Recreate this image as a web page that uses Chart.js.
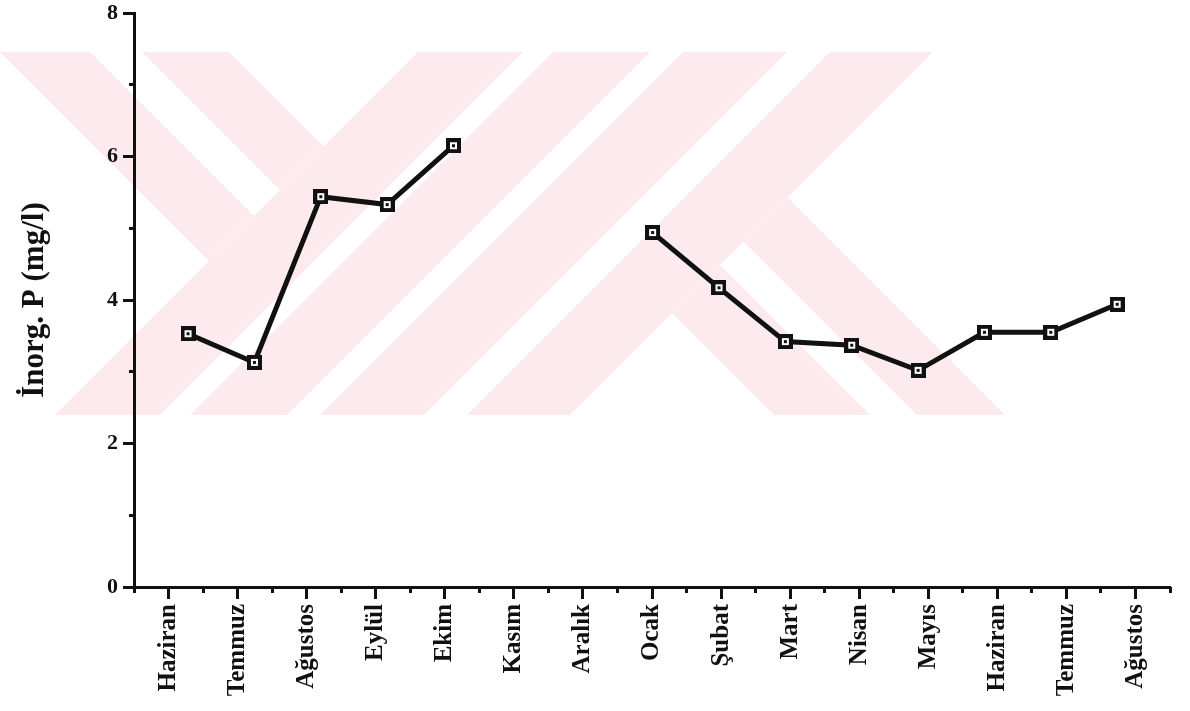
<!DOCTYPE html>
<html lang="tr">
<head>
<meta charset="UTF-8">
<title>İnorg. P</title>
<script src="https://cdn.jsdelivr.net/npm/chart.js"></script>
<style>
  body { margin: 0; background: #fff; }
  .kutu { width: 1190px; height: 711px; }
</style>
</head>
<body>
<div class="kutu"><canvas id="grafik"></canvas></div>
<script>
// veriler
const aylar = ['Haziran', 'Temmuz', 'Ağustos', 'Eylül', 'Ekim', 'Kasım', 'Aralık', 'Ocak', 'Şubat', 'Mart', 'Nisan', 'Mayıs', 'Haziran', 'Temmuz', 'Ağustos'];
const inorgP = [3.53, 3.13, 5.44, 5.33, 6.15, null, null, 4.94, 4.17, 3.42, 3.37, 3.02, 3.55, 3.55, 3.94];
const yEtiketleri = [0, 2, 4, 6, 8];

const siyah = '#111';
const pembe = '#fdeaee';

// kare isaret (icinde beyaz kare)
const isaret = document.createElement('canvas');
isaret.width = 15; isaret.height = 15;
const ic = isaret.getContext('2d');
ic.fillStyle = siyah; ic.fillRect(0, 0, 15, 15);
ic.fillStyle = '#fff'; ic.fillRect(4, 4, 7, 7);
ic.fillStyle = siyah; ic.fillRect(6, 6, 3, 3);

// arka plandaki soluk pembe filigran
const filigran = {
  id: 'filigran',
  beforeDraw(chart) {
    const ctx = chart.ctx;
    const ust = 52, alt = 415;
    ctx.save();
    ctx.beginPath(); ctx.rect(0, ust, chart.width, alt - ust); ctx.clip();
    ctx.fillStyle = pembe;
    const cokgen = (pts) => {
      ctx.beginPath();
      pts.forEach((p, i) => i ? ctx.lineTo(p[0], p[1]) : ctx.moveTo(p[0], p[1]));
      ctx.closePath(); ctx.fill();
    };
    // "\" seritler, s = x + y < 470
    [[-52, 38], [90, 177]].forEach(([a, b]) => cokgen([
      [a + ust, ust], [(470 + a) / 2, (470 - a) / 2], [(470 + b) / 2, (470 - b) / 2], [b + ust, ust]
    ]));
    // "/" seritler
    [[470, 575], [605, 702], [735, 839], [882, 985]].forEach(([a, b]) => cokgen([
      [a - ust, ust], [b - ust, ust], [b - alt, alt], [a - alt, alt]
    ]));
    // sagdaki "\" seritler, s > 985
    [[359, 455], [502, 590]].forEach(([a, b]) => cokgen([
      [(985 + a) / 2, (985 - a) / 2], [(985 + b) / 2, (985 - b) / 2], [b + alt, alt], [a + alt, alt]
    ]));
    ctx.restore();
  }
};

const seriFont = 'Liberation Serif, Times New Roman, serif';

new Chart(document.getElementById('grafik'), {
  type: 'line',
  data: {
    labels: aylar,
    datasets: [{
      data: inorgP.map((v, i) => ({ x: i, y: v })),
      xAxisID: 'xVeri',
      yAxisID: 'y',
      borderColor: siyah,
      borderWidth: 5,
      pointStyle: isaret,
      pointRadius: 8,
      spanGaps: false,
      tension: 0
    }]
  },
  options: {
    responsive: true,
    maintainAspectRatio: false,
    animation: false,
    layout: { padding: { top: 12, right: 20, bottom: 0, left: 0 } },
    plugins: { legend: { display: false }, tooltip: { enabled: false } },
    scales: {
      xVeri: {
        type: 'linear', display: false, min: -0.814, max: 14.796
      },
      x: {
        type: 'category', position: 'bottom', weight: 1, offset: true,
        grid: { offset: false, drawOnChartArea: false, drawTicks: true, tickLength: 12, tickWidth: 3, tickColor: siyah },
        border: { display: true, width: 3, color: siyah },
        ticks: {
          autoSkip: false, maxRotation: 90, minRotation: 90, padding: 5, color: siyah,
          font: { family: seriFont, size: 25, weight: 'bold' }
        },
        afterFit(s) { s.height = 124; }
      },
      xAra: {
        type: 'category', position: 'bottom', weight: 0, offset: true,
        grid: { offset: true, drawOnChartArea: false, drawTicks: true, tickLength: 6, tickWidth: 3, tickColor: siyah },
        border: { display: false },
        ticks: { display: false },
        afterFit(s) { s.height = 0; }
      },
      y: {
        position: 'left', weight: 1,
        min: yEtiketleri[0], max: yEtiketleri[yEtiketleri.length - 1],
        grid: { drawOnChartArea: false, drawTicks: true, tickLength: 11, tickWidth: 3, tickColor: siyah },
        border: { display: true, width: 3, color: siyah },
        ticks: {
          stepSize: yEtiketleri[1] - yEtiketleri[0], padding: 5, color: siyah,
          font: { family: seriFont, size: 22, weight: 'bold' }
        },
        title: {
          display: true, text: 'İnorg. P (mg/l)', color: siyah,
          font: { family: seriFont, size: 31, weight: 'bold' },
          padding: { top: 16, bottom: 0 }
        },
        afterFit(s) { s.width = 134; s.paddingTop = 0; s.paddingBottom = 0; }
      },
      yAra: {
        position: 'left', weight: 0,
        min: yEtiketleri[0], max: yEtiketleri[yEtiketleri.length - 1],
        grid: { drawOnChartArea: false, drawTicks: true, tickLength: 5, tickWidth: 3, tickColor: siyah },
        border: { display: false },
        ticks: { stepSize: 1, display: false },
        afterFit(s) { s.width = 0; }
      }
    }
  },
  plugins: [filigran]
});
</script>
</body>
</html>
